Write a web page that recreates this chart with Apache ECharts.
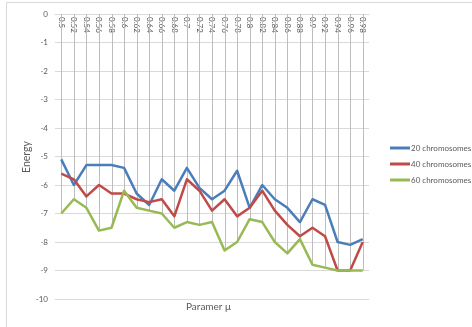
<!DOCTYPE html>
<html>
<head>
<meta charset="utf-8">
<script src="https://cdn.jsdelivr.net/npm/echarts@6/dist/echarts.min.js"></script>
<style>
  html, body { margin: 0; padding: 0; background: #fff; }
  #chart { width: 472px; height: 327px; }
</style>
</head>
<body>
<div id="chart"></div>
<script>
// Parameter values on the category axis
const mu = ['0.5','0.52','0.54','0.56','0.58','0.6','0.62','0.64','0.66','0.68','0.7','0.72',
            '0.74','0.76','0.78','0.8','0.82','0.84','0.86','0.88','0.9','0.92','0.94','0.96','0.98'];

// Energy for each population size
const chrom20 = [-5.1,-6.0,-5.3,-5.3,-5.3,-5.4,-6.3,-6.7,-5.8,-6.2,-5.4,-6.1,
                 -6.5,-6.2,-5.5,-6.8,-6.0,-6.5,-6.8,-7.3,-6.5,-6.7,-8.0,-8.1,-7.9];
const chrom40 = [-5.6,-5.8,-6.4,-6.0,-6.3,-6.3,-6.5,-6.6,-6.5,-7.1,-5.8,-6.2,
                 -6.9,-6.5,-7.1,-6.8,-6.2,-6.9,-7.4,-7.8,-7.5,-7.8,-9.0,-9.0,-8.0];
const chrom60 = [-7.0,-6.5,-6.8,-7.6,-7.5,-6.2,-6.8,-6.9,-7.0,-7.5,-7.3,-7.4,
                 -7.3,-8.3,-8.0,-7.2,-7.3,-8.0,-8.4,-7.9,-8.8,-8.9,-9.0,-9.0,-9.0];

const seriesNames = ['20 chromosomes', '40 chromosomes', '60 chromosomes'];

// Drop lines run from the zero axis down to the lowest point of each category
const dropTo = mu.map((_, i) => Math.min(chrom20[i], chrom40[i], chrom60[i]));

const textColor = '#595959';
const font = 'Lato, "Open Sans", sans-serif';

const chart = echarts.init(document.getElementById('chart'), null, { renderer: 'canvas' });

const lineSeries = (name, data, color) => ({
  name, type: 'line', data,
  symbol: 'none', z: 3,
  lineStyle: { color, width: 2.5, join: 'round' },
  itemStyle: { color }
});

chart.setOption({
  animation: false,
  backgroundColor: '#ffffff',
  grid: { left: 55, right: 103, top: 14, bottom: 28, containLabel: false },
  graphic: [
    {
      type: 'rect', shape: { x: 6.5, y: 2.5, width: 500, height: 400 },
      style: { fill: 'none', stroke: '#d9d9d9', lineWidth: 1 }, silent: true, z: -1
    },
    {
      type: 'text', left: 186, top: 302,
      style: { text: 'Paramer μ', fill: textColor, font: '10px ' + font }
    },
    {
      type: 'text', x: 27, y: 157, rotation: Math.PI / 2,
      style: { text: 'Energy', fill: textColor, font: '10.5px ' + font,
               align: 'center', verticalAlign: 'middle' }
    }
  ],
  legend: {
    orient: 'vertical', left: 385, top: 139,
    itemWidth: 20, itemHeight: 3, itemGap: 8,
    icon: 'rect',
    textStyle: { color: textColor, fontSize: 8, fontFamily: font, padding: [0, 0, 0, -4] },
    data: seriesNames
  },
  xAxis: {
    type: 'category', data: mu, boundaryGap: true, position: 'top',
    axisLine: { lineStyle: { color: '#d9d9d9' } },
    axisTick: { show: false },
    axisLabel: { inside: true, rotate: -90, color: textColor, fontSize: 8, fontFamily: font,
                 margin: 3, interval: 0 },
    splitLine: { show: false }
  },
  yAxis: {
    type: 'value', min: -10, max: 0, interval: 1,
    axisLine: { show: false }, axisTick: { show: false },
    axisLabel: { color: textColor, fontSize: 8, fontFamily: font, margin: 7 },
    splitLine: { lineStyle: { color: '#d9d9d9', width: 1 } }
  },
  series: [
    {
      name: 'drop', type: 'custom', z: 1, silent: true,
      data: dropTo.map((v, i) => [i, v]),
      renderItem: (params, api) => {
        const top = api.coord([api.value(0), 0]);
        const bottom = api.coord([api.value(0), api.value(1)]);
        const x = Math.round(top[0]) + 0.5;
        return {
          type: 'line',
          shape: { x1: x, y1: top[1], x2: x, y2: bottom[1] },
          style: { stroke: '#bdbdbd', lineWidth: 1 }
        };
      }
    },
    lineSeries(seriesNames[0], chrom20, '#4a7ebb'),
    lineSeries(seriesNames[1], chrom40, '#be4b48'),
    lineSeries(seriesNames[2], chrom60, '#98b954')
  ]
});
</script>
</body>
</html>
